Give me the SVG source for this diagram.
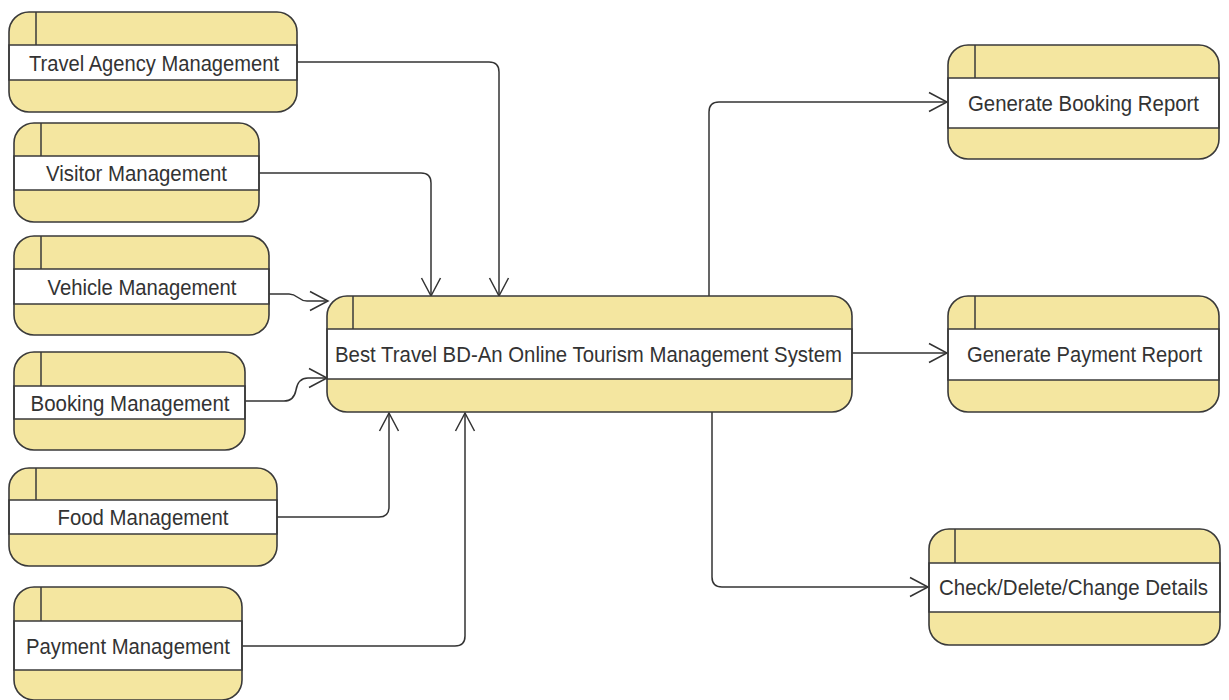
<svg xmlns="http://www.w3.org/2000/svg" width="1229" height="700" viewBox="0 0 1229 700">
<defs>
<style>
.bg{fill:#f4e6a0;stroke:none}
.band{fill:#ffffff;stroke:#3a3a3a;stroke-width:1.5}
.ln{stroke:#3a3a3a;stroke-width:1.5;fill:none}
.out{fill:none;stroke:#3a3a3a;stroke-width:1.6}
.t{font-family:"Liberation Sans",Arial,sans-serif;font-size:22px;fill:#333333;text-anchor:middle}
.c{fill:none;stroke:#333333;stroke-width:1.5}
</style>
<marker id="arr" markerUnits="userSpaceOnUse" markerWidth="22" markerHeight="24" refX="19" refY="11" orient="auto">
<path d="M1,1.5 L19,11 L1,20.5" fill="none" stroke="#333333" stroke-width="1.5"/>
</marker>
</defs>
<rect width="1229" height="700" fill="#ffffff"/>

<g id="connectors">
<path class="c" d="M297,62 H489 Q499,62 499,72 V296" marker-end="url(#arr)"/>
<path class="c" d="M259,173 H421 Q431,173 431,183 V296" marker-end="url(#arr)"/>
<path class="c" d="M269,294 H289 C298,294 298,301 307,301 H328" marker-end="url(#arr)"/>
<path class="c" d="M245,401 H284 Q294,401 296,390 Q298,378 308,378 H327" marker-end="url(#arr)"/>
<path class="c" d="M277,517 H379 Q389,517 389,507 V413" marker-end="url(#arr)"/>
<path class="c" d="M242,646 H455 Q465,646 465,636 V413" marker-end="url(#arr)"/>
<path class="c" d="M709,296 V112 Q709,102 719,102 H947" marker-end="url(#arr)"/>
<path class="c" d="M852,353 H947" marker-end="url(#arr)"/>
<path class="c" d="M712,412 V577 Q712,587 722,587 H928" marker-end="url(#arr)"/>
</g>

<g id="travel-agency">
<rect class="bg" x="9" y="12" width="288" height="100" rx="20"/>
<rect class="band" x="9" y="45" width="288" height="35"/>
<line class="ln" x1="36" y1="12" x2="36" y2="45"/>
<rect class="out" x="9" y="12" width="288" height="100" rx="20"/>
<text class="t" x="154" y="70.5" textLength="250" lengthAdjust="spacingAndGlyphs">Travel Agency Management</text>
</g>

<g id="visitor">
<rect class="bg" x="14" y="123" width="245" height="99" rx="20"/>
<rect class="band" x="14" y="156" width="245" height="34"/>
<line class="ln" x1="41" y1="123" x2="41" y2="156"/>
<rect class="out" x="14" y="123" width="245" height="99" rx="20"/>
<text class="t" x="136.5" y="181" textLength="181" lengthAdjust="spacingAndGlyphs">Visitor Management</text>
</g>

<g id="vehicle">
<rect class="bg" x="14" y="236" width="255" height="99" rx="20"/>
<rect class="band" x="14" y="269" width="255" height="35"/>
<line class="ln" x1="41" y1="236" x2="41" y2="269"/>
<rect class="out" x="14" y="236" width="255" height="99" rx="20"/>
<text class="t" x="142" y="294.5" textLength="189" lengthAdjust="spacingAndGlyphs">Vehicle Management</text>
</g>

<g id="booking">
<rect class="bg" x="14" y="352" width="231" height="98" rx="20"/>
<rect class="band" x="14" y="386" width="231" height="33"/>
<line class="ln" x1="41" y1="352" x2="41" y2="386"/>
<rect class="out" x="14" y="352" width="231" height="98" rx="20"/>
<text class="t" x="130" y="410.5" textLength="199" lengthAdjust="spacingAndGlyphs">Booking Management</text>
</g>

<g id="food">
<rect class="bg" x="9" y="468" width="268" height="98" rx="20"/>
<rect class="band" x="9" y="500" width="268" height="34"/>
<line class="ln" x1="36" y1="468" x2="36" y2="500"/>
<rect class="out" x="9" y="468" width="268" height="98" rx="20"/>
<text class="t" x="143" y="525" textLength="171" lengthAdjust="spacingAndGlyphs">Food Management</text>
</g>

<g id="payment">
<rect class="bg" x="14" y="587" width="228" height="113" rx="20"/>
<rect class="band" x="14" y="621" width="228" height="49"/>
<line class="ln" x1="41" y1="587" x2="41" y2="621"/>
<rect class="out" x="14" y="587" width="228" height="113" rx="20"/>
<text class="t" x="128" y="653.5" textLength="204" lengthAdjust="spacingAndGlyphs">Payment Management</text>
</g>

<g id="central">
<rect class="bg" x="327" y="296" width="525" height="116" rx="20"/>
<rect class="band" x="327" y="329" width="525" height="50"/>
<line class="ln" x1="353" y1="296" x2="353" y2="329"/>
<rect class="out" x="327" y="296" width="525" height="116" rx="20"/>
<text class="t" x="588.5" y="361.5" textLength="507" lengthAdjust="spacingAndGlyphs">Best Travel BD-An Online Tourism Management System</text>
</g>

<g id="booking-report">
<rect class="bg" x="948" y="45" width="271" height="114" rx="20"/>
<rect class="band" x="948" y="78" width="271" height="50"/>
<line class="ln" x1="975" y1="45" x2="975" y2="78"/>
<rect class="out" x="948" y="45" width="271" height="114" rx="20"/>
<text class="t" x="1083.5" y="110.5" textLength="231" lengthAdjust="spacingAndGlyphs">Generate Booking Report</text>
</g>

<g id="payment-report">
<rect class="bg" x="948" y="296" width="271" height="116" rx="20"/>
<rect class="band" x="948" y="329" width="271" height="51"/>
<line class="ln" x1="975" y1="296" x2="975" y2="329"/>
<rect class="out" x="948" y="296" width="271" height="116" rx="20"/>
<text class="t" x="1084.5" y="362" textLength="235" lengthAdjust="spacingAndGlyphs">Generate Payment Report</text>
</g>

<g id="check-details">
<rect class="bg" x="929" y="529" width="291" height="116" rx="20"/>
<rect class="band" x="929" y="563" width="291" height="49"/>
<line class="ln" x1="955" y1="529" x2="955" y2="563"/>
<rect class="out" x="929" y="529" width="291" height="116" rx="20"/>
<text class="t" x="1073.5" y="595" textLength="269" lengthAdjust="spacingAndGlyphs">Check/Delete/Change Details</text>
</g>
</svg>
